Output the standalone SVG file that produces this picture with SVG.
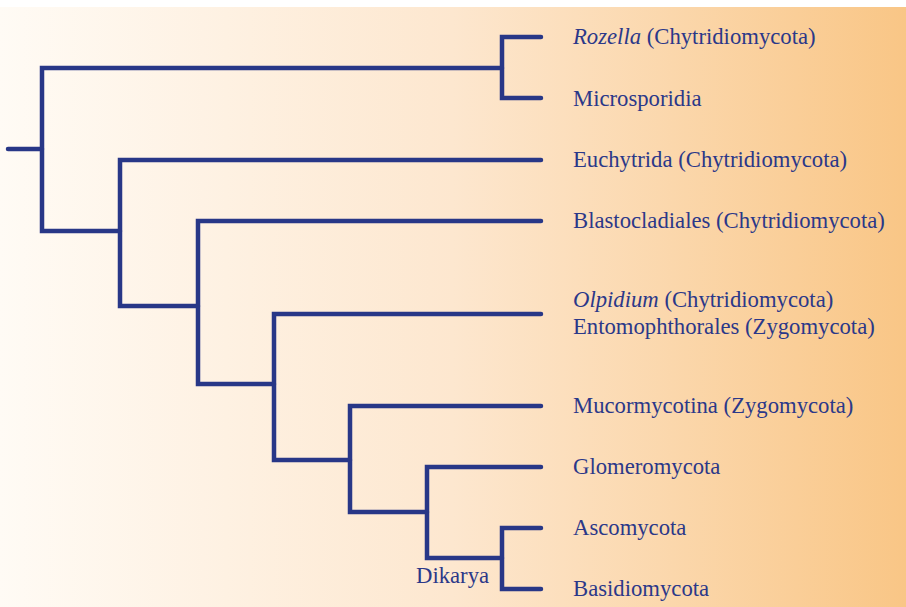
<svg xmlns="http://www.w3.org/2000/svg" width="906" height="607" viewBox="0 0 906 607">
<defs>
<linearGradient id="bg" x1="0" y1="0" x2="1" y2="0">
<stop offset="0" stop-color="#fffbf5"/>
<stop offset="0.5" stop-color="#fde7cf"/>
<stop offset="1" stop-color="#f9c686"/>
</linearGradient>
<style>
.e{fill:none;stroke:#283787;stroke-width:4.5;stroke-linecap:round;stroke-linejoin:miter}
.t{font-family:"Liberation Serif","Times New Roman",serif;font-size:22.7px;fill:#2b3889}
.i{font-style:italic}
</style>
</defs>
<rect x="0" y="0" width="906" height="607" fill="#ffffff"/>
<rect x="0" y="7" width="906" height="600" fill="url(#bg)"/>
<g id="edges">
<path class="e" d="M8 149H42"/>
<path class="e" d="M502 68H42V231H120"/>
<path class="e" d="M541 37H502V98H541"/>
<path class="e" d="M541 160H120V306H198"/>
<path class="e" d="M541 221H198V384H274"/>
<path class="e" d="M541 314H274V460H350"/>
<path class="e" d="M541 406H350V512H427"/>
<path class="e" d="M541 467H427V558H502"/>
<path class="e" d="M541 528H502V589H541"/>
</g>
<g id="rozella"><text class="t" x="573" y="44"><tspan class="i">Rozella</tspan> (Chytridiomycota)</text></g>
<g id="microsporidia"><text class="t" x="573" y="106">Microsporidia</text></g>
<g id="euchytrida"><text class="t" x="573" y="167">Euchytrida (Chytridiomycota)</text></g>
<g id="blastocladiales"><text class="t" x="573" y="228">Blastocladiales (Chytridiomycota)</text></g>
<g id="olpidium"><text class="t" x="573" y="307"><tspan class="i">Olpidium</tspan> (Chytridiomycota)</text><text class="t" x="573" y="334">Entomophthorales (Zygomycota)</text></g>
<g id="mucormycotina"><text class="t" x="573" y="413">Mucormycotina (Zygomycota)</text></g>
<g id="glomeromycota"><text class="t" x="573" y="474">Glomeromycota</text></g>
<g id="ascomycota"><text class="t" x="573" y="535">Ascomycota</text></g>
<g id="basidiomycota"><text class="t" x="573" y="596">Basidiomycota</text></g>
<g id="dikarya"><text class="t" x="416" y="583">Dikarya</text></g>
</svg>
